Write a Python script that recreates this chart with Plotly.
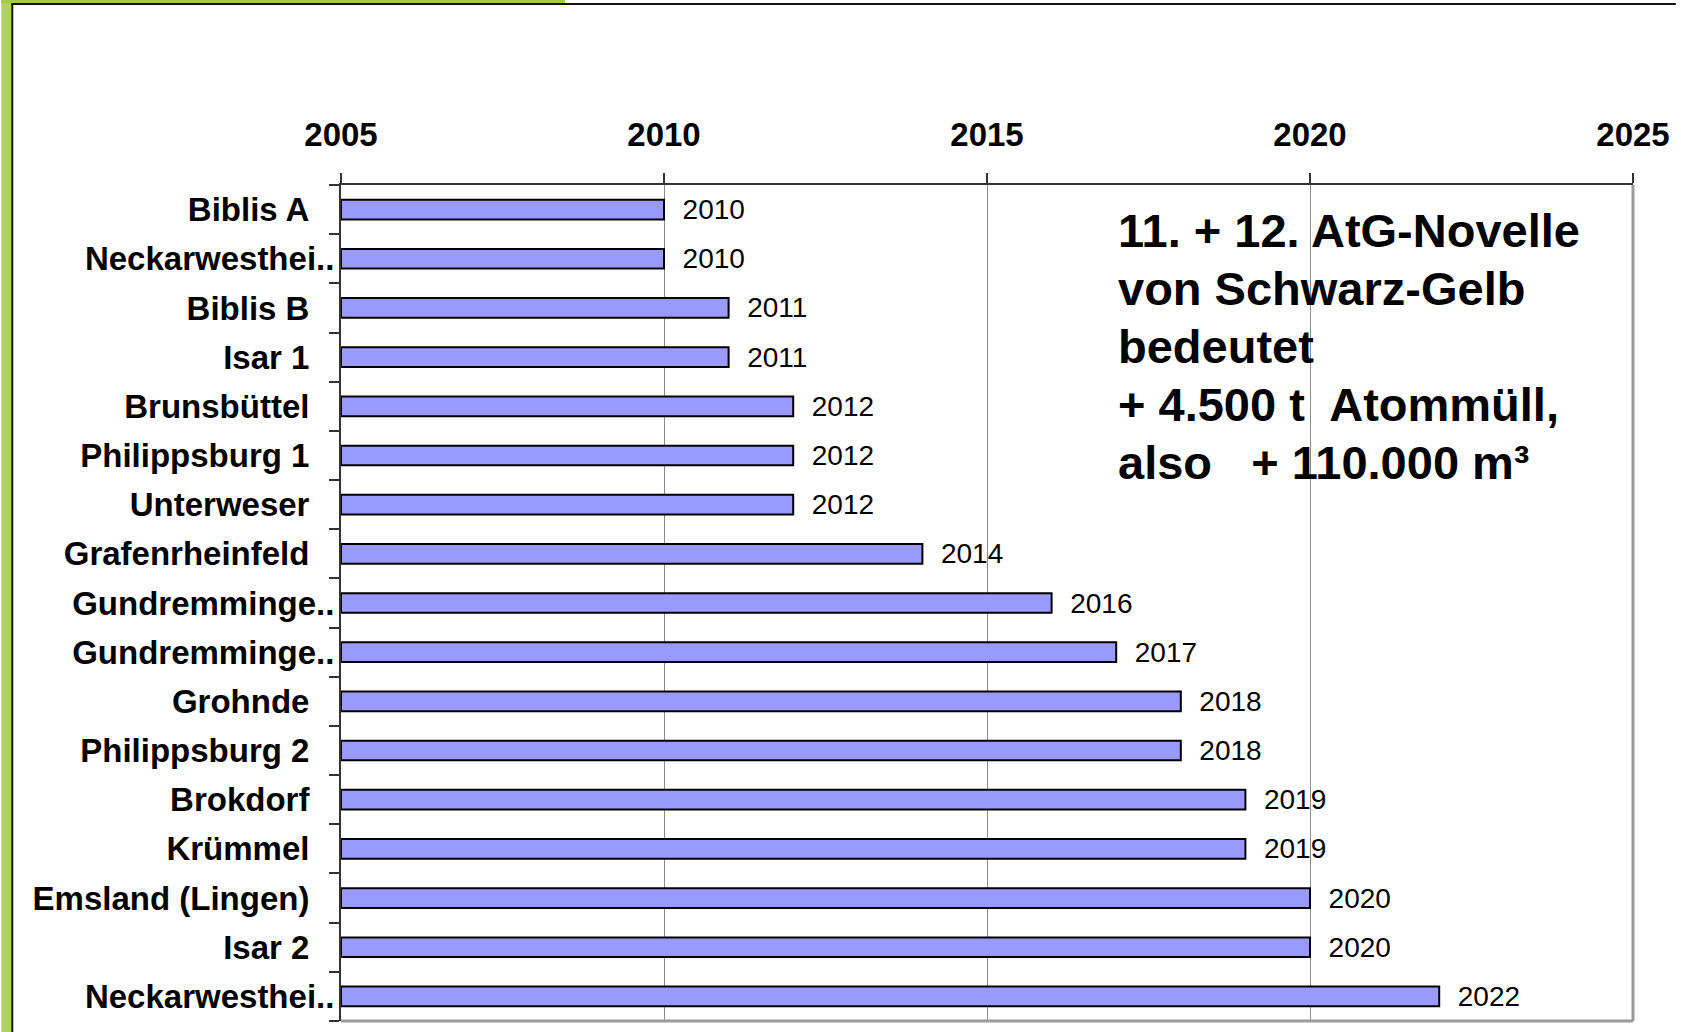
import plotly.graph_objects as go

# ---------------- data ----------------
plants = [
    "Biblis A", "Neckarwesthei..", "Biblis B", "Isar 1", "Brunsbüttel",
    "Philippsburg 1", "Unterweser", "Grafenrheinfeld", "Gundremminge..",
    "Gundremminge..", "Grohnde", "Philippsburg 2", "Brokdorf", "Krümmel",
    "Emsland (Lingen)", "Isar 2", "Neckarwesthei..",
]
shutdown_year = [2010, 2010, 2011, 2011, 2012, 2012, 2012, 2014, 2016,
                 2017, 2018, 2018, 2019, 2019, 2020, 2020, 2022]
start_year = 2005
x_ticks = [2005, 2010, 2015, 2020, 2025]
note_lines = [
    "11. + 12. AtG-Novelle",
    "von Schwarz-Gelb",
    "bedeutet",
    "+ 4.500 t\u00a0 Atommüll,",
    "also \u00a0 + 110.000 m³",
]

# ---------------- layout geometry (pixels) ----------------
W, H = 1681, 1032
L, R, T, B = 341, 1638, 185, 1021
PW, PH = R - L, B - T


def px(p):
    return (p - L) / PW


def py(p):
    return (B - p) / PH


FONT = "Liberation Sans, Arial, sans-serif"

ids = [f"c{i}" for i in range(len(plants))]
ticktext = [p if p.endswith("..") else p + "\u00a0\u00a0\u2009" for p in plants]
lengths = [y - start_year for y in shutdown_year]

fig = go.Figure()
fig.add_trace(go.Bar(
    y=ids,
    x=lengths,
    base=start_year,
    orientation="h",
    width=0.4,
    marker=dict(color="#9999FF", line=dict(color="#000000", width=2)),
    text=[str(v) for v in shutdown_year],
    texttemplate="\u00a0\u00a0%{text}",
    textposition="outside",
    constraintext="none",
    cliponaxis=False,
    textfont=dict(family=FONT, size=28, color="#000000"),
    hoverinfo="skip",
))

shapes = [
    # green slide frame
    dict(type="rect", xref="paper", yref="paper", x0=px(0), x1=px(10), y0=py(H), y1=py(0),
         fillcolor="#AFD166", line=dict(width=0), layer="below"),
    dict(type="rect", xref="paper", yref="paper", x0=px(0), x1=px(566), y0=py(3), y1=py(0),
         fillcolor="#A6CB4C", line=dict(width=0), layer="below"),
    # dark frame lines
    dict(type="line", xref="paper", yref="paper", x0=px(10), x1=px(W), y0=py(4), y1=py(4),
         line=dict(color="#111111", width=2)),
    dict(type="line", xref="paper", yref="paper", x0=px(11), x1=px(11), y0=py(4), y1=py(H + 5),
         line=dict(color="#111111", width=2)),
    # gray right / bottom plot border
    dict(type="line", xref="paper", yref="paper", x0=1, x1=1, y0=0, y1=1,
         line=dict(color="#9A9A9A", width=3)),
    dict(type="line", xref="paper", yref="paper", x0=0, x1=1, y0=0, y1=0,
         line=dict(color="#9A9A9A", width=3)),
]

baselines = [246.6, 304.5, 362.4, 420.2, 478.0]
annotations = []
for line, bl in zip(note_lines, baselines):
    annotations.append(dict(
        text=line, x=start_year + 12, xref="x", xanchor="left",
        y=py(bl - 16), yref="paper", yanchor="middle",
        showarrow=False, align="left",
        font=dict(family=FONT, size=47, color="#000000", weight="bold"),
    ))

fig.update_layout(
    width=W, height=H,
    margin=dict(l=L, r=W - R, t=T, b=H - B, pad=0),
    paper_bgcolor="#FFFFFF",
    plot_bgcolor="#FFFFFF",
    showlegend=False,
    shapes=shapes,
    annotations=annotations,
    xaxis=dict(
        side="top",
        range=[x_ticks[0], x_ticks[-1]],
        tickmode="array",
        tickvals=x_ticks,
        ticktext=[str(v) for v in x_ticks],
        ticks="outside", ticklen=10, tickwidth=1.5, tickcolor="#333333",
        showline=True, linecolor="#333333", linewidth=2,
        showgrid=True, gridcolor="#8C8C8C", gridwidth=1,
        zeroline=False,
        tickfont=dict(family=FONT, size=33, color="#000000", weight="bold"),
        ticklabelstandoff=14,
        fixedrange=True,
    ),
    yaxis=dict(
        type="category",
        categoryorder="array", categoryarray=ids,
        tickmode="array", tickvals=ids, ticktext=ticktext,
        autorange="reversed",
        tickson="boundaries",
        ticks="outside", ticklen=10, tickwidth=1.5, tickcolor="#333333",
        showline=True, linecolor="#333333", linewidth=2,
        showgrid=False, zeroline=False,
        tickfont=dict(family=FONT, size=33, color="#000000", weight="bold"),
        ticklabelstandoff=-2,
        fixedrange=True,
    ),
)

fig.write_html(
    "out.html",
    config={"displayModeBar": False},
    post_script="document.body.style.margin='0';document.body.style.padding='0';",
)
